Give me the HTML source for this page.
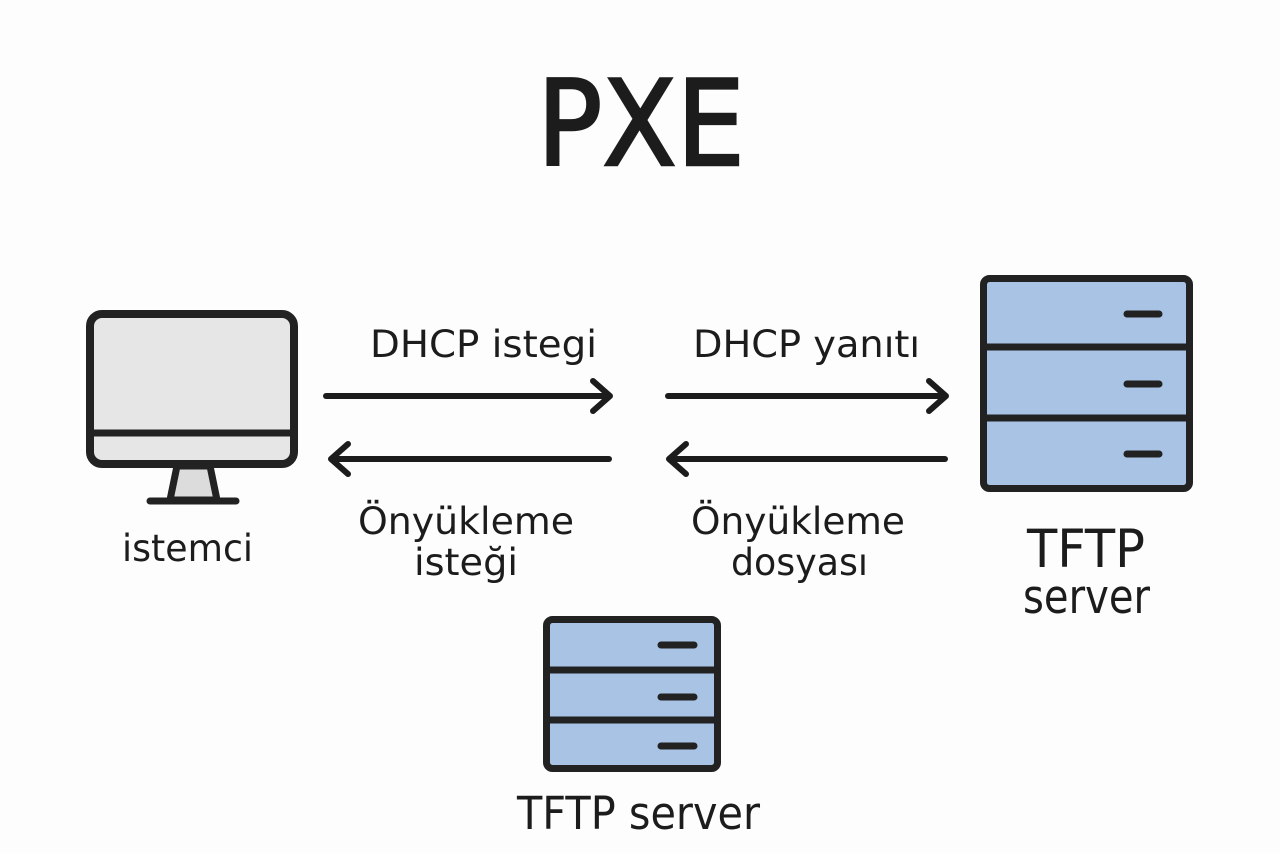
<!DOCTYPE html>
<html>
<head>
<meta charset="utf-8">
<style>
html,body{margin:0;padding:0;background:#fdfdfd;}
svg{display:block;}
text{font-family:"DejaVu Sans","Liberation Sans",sans-serif;fill:#1c1c1c;}
</style>
</head>
<body>
<svg width="1280" height="853" viewBox="0 0 1280 853" xmlns="http://www.w3.org/2000/svg">
<rect x="0" y="0" width="1280" height="853" fill="#fdfdfd"/>

<!-- Title -->
<text x="537" y="165" font-size="119" textLength="208" lengthAdjust="spacingAndGlyphs" stroke="#1c1c1c" stroke-width="2.5">PXE</text>

<!-- Monitor -->
<g stroke="#222" stroke-width="8" stroke-linejoin="round" stroke-linecap="round">
  <polygon points="177,466 210,466 217,500 170,500" fill="#dcdcdc" stroke-width="7"/>
  <rect x="90" y="314" width="204" height="150" rx="12" fill="#e6e6e6"/>
  <line x1="90" y1="433" x2="294" y2="433" stroke-width="7"/>
  <line x1="150" y1="501" x2="236" y2="501" stroke-width="7"/>
</g>
<text x="122" y="561" font-size="37" textLength="131" lengthAdjust="spacingAndGlyphs">istemci</text>

<!-- Right server -->
<g stroke="#222" stroke-width="7" stroke-linecap="round">
  <rect x="983.5" y="278.5" width="206" height="210" rx="6" fill="#a8c3e4"/>
  <line x1="983.5" y1="347" x2="1189.5" y2="347"/>
  <line x1="983.5" y1="418" x2="1189.5" y2="418"/>
  <line x1="1127" y1="314" x2="1159" y2="314"/>
  <line x1="1127" y1="384" x2="1159" y2="384"/>
  <line x1="1127" y1="454" x2="1159" y2="454"/>
</g>
<text x="1027" y="567" font-size="53" textLength="118" lengthAdjust="spacingAndGlyphs">TFTP</text>
<text x="1023" y="613" font-size="47" textLength="127" lengthAdjust="spacingAndGlyphs">server</text>

<!-- Bottom server -->
<g stroke="#222" stroke-width="7" stroke-linecap="round">
  <rect x="546.5" y="619.5" width="171" height="149" rx="6" fill="#a8c3e4"/>
  <line x1="546.5" y1="670" x2="717.5" y2="670"/>
  <line x1="546.5" y1="720" x2="717.5" y2="720"/>
  <line x1="661" y1="645" x2="694" y2="645"/>
  <line x1="661" y1="697" x2="694" y2="697"/>
  <line x1="661" y1="746" x2="694" y2="746"/>
</g>
<text x="517" y="829" font-size="45" textLength="243" lengthAdjust="spacingAndGlyphs">TFTP server</text>

<!-- Arrows -->
<g stroke="#1c1c1c" stroke-width="6" stroke-linecap="round" stroke-linejoin="round" fill="none">
  <line x1="326" y1="396" x2="609" y2="396"/>
  <polyline points="593,381 610,396 593,411"/>
  <line x1="668" y1="396" x2="944" y2="396"/>
  <polyline points="929,381 946,396 929,411"/>
  <line x1="332" y1="459" x2="609" y2="459"/>
  <polyline points="348,444 331,459 348,474"/>
  <line x1="670" y1="459" x2="945" y2="459"/>
  <polyline points="686,444 669,459 686,474"/>
</g>

<!-- Arrow labels -->
<text x="370" y="357" font-size="37" textLength="227" lengthAdjust="spacingAndGlyphs">DHCP istegi</text>
<text x="693" y="357" font-size="37" textLength="227" lengthAdjust="spacingAndGlyphs">DHCP yanıtı</text>
<text x="358" y="534" font-size="37" textLength="216" lengthAdjust="spacingAndGlyphs">Önyükleme</text>
<text x="414" y="575" font-size="37" textLength="104" lengthAdjust="spacingAndGlyphs">isteği</text>
<text x="691" y="534" font-size="37" textLength="214" lengthAdjust="spacingAndGlyphs">Önyükleme</text>
<text x="731" y="575" font-size="37" textLength="137" lengthAdjust="spacingAndGlyphs">dosyası</text>
</svg>
</body>
</html>
